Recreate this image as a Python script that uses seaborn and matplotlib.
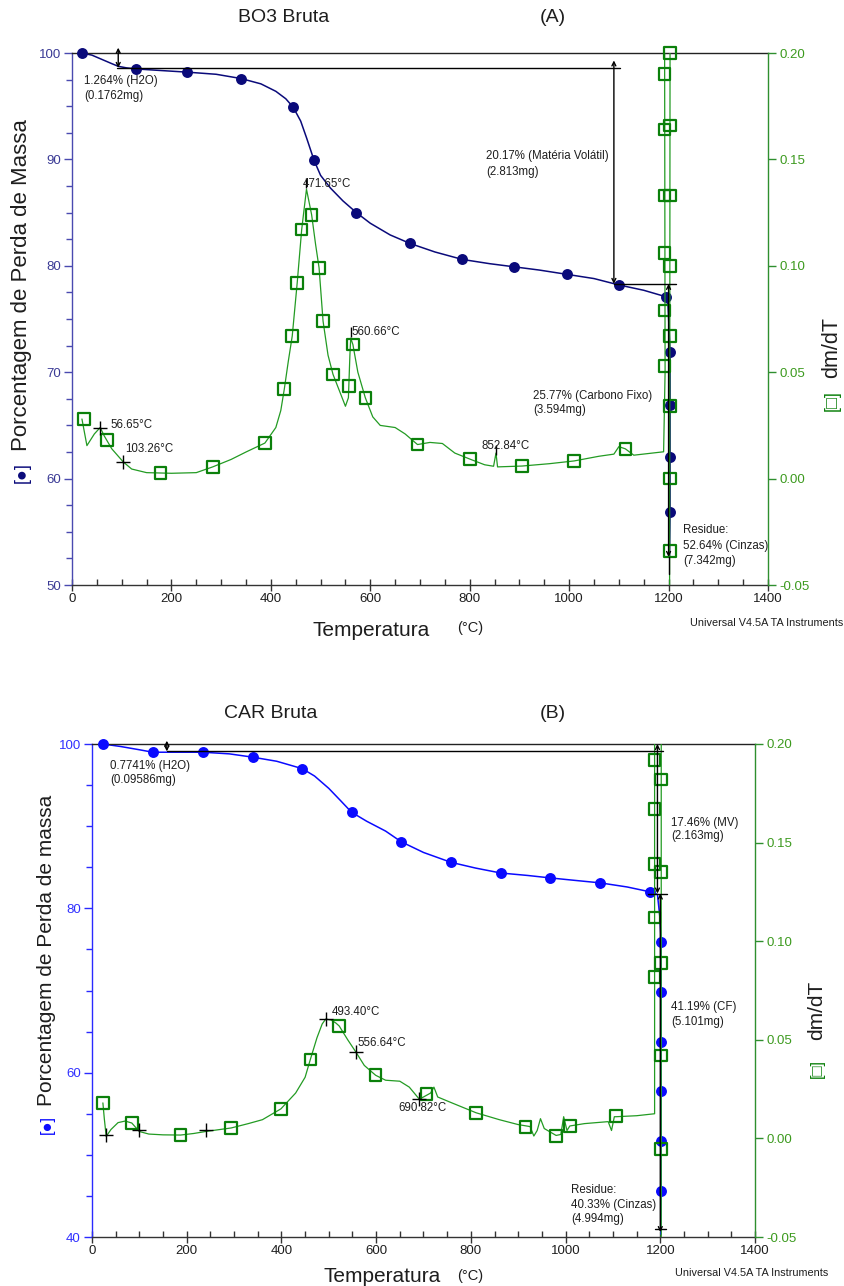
import matplotlib
matplotlib.use("Agg")
import matplotlib.pyplot as plt
from matplotlib.ticker import MultipleLocator, FormatStrFormatter
import seaborn as sns

# ---------------- data: panel A (BO3 Bruta) ----------------
A_mass_T = [20, 40, 60, 80, 93, 110, 130, 180, 232, 290, 340, 380, 410, 430, 445, 460, 472,
            487, 500, 520, 545, 572, 600, 640, 680, 730, 785, 840, 890, 940, 995, 1050, 1100,
            1150, 1194, 1199, 1203, 1203, 1203, 1203, 1202]
A_mass_pct = [100.0, 99.8, 99.4, 99.0, 98.75, 98.6, 98.5, 98.35, 98.2, 98.0, 97.6, 97.1, 96.4,
              95.7, 94.9, 93.6, 92.0, 89.9, 88.5, 87.3, 86.1, 85.0, 84.0, 82.9, 82.1, 81.3, 80.6,
              80.2, 79.9, 79.6, 79.2, 78.8, 78.2, 77.7, 77.1, 76.2, 71.9, 66.9, 62.0, 56.9, 52.64]
A_mass_mark_T = [20, 128, 232, 340, 445, 487, 572, 680, 785, 890, 995, 1100, 1194,
                 1203, 1203, 1203, 1203]
A_mass_mark_pct = [100.0, 98.5, 98.2, 97.6, 94.9, 89.9, 85.0, 82.1, 80.6, 79.9, 79.2, 78.2, 77.1,
                   71.9, 66.9, 62.0, 56.9]

A_der_T = [20, 30, 45, 56.65, 65, 80, 103.26, 120, 150, 200, 250, 283, 320, 350, 388, 410, 420,
           427, 435, 443, 453, 462, 471.65, 482, 490, 497, 505, 515, 525, 540, 550, 556, 559,
           560.66, 565, 575, 590, 605, 620, 650, 670, 695, 720, 745, 770, 800, 830, 848, 852.84,
           856, 905, 960, 1010, 1060, 1090, 1100, 1113, 1130, 1190,
           1193, 1192, 1203, 1202]
A_der_val = [0.028, 0.0155, 0.021, 0.024, 0.020, 0.014, 0.0078, 0.0045, 0.0028, 0.0025, 0.0028,
             0.0055, 0.0090, 0.0125, 0.0167, 0.024, 0.032, 0.042, 0.055, 0.067, 0.092, 0.117,
             0.136, 0.124, 0.110, 0.099, 0.074, 0.058, 0.049, 0.040, 0.034, 0.038, 0.058, 0.066,
             0.063, 0.050, 0.038, 0.029, 0.025, 0.024, 0.021, 0.016, 0.017, 0.0165, 0.012,
             0.0092, 0.0065, 0.0058, 0.012, 0.0055, 0.0059, 0.0070, 0.0083, 0.0105, 0.0115,
             0.015, 0.014, 0.0110, 0.0126,
             0.05, 0.21, 0.21, -0.06]
A_der_mark_T = [24, 70, 178, 283, 388, 427, 443, 453, 462, 482, 497, 505, 525, 557, 565, 590,
                695, 800, 905, 1010, 1113,
                1192, 1192, 1192, 1192, 1192, 1192,
                1203, 1203, 1203, 1203, 1203, 1203, 1203, 1203]
A_der_mark_val = [0.028, 0.018, 0.0026, 0.0055, 0.0167, 0.042, 0.067, 0.092, 0.117, 0.124,
                  0.099, 0.074, 0.049, 0.0435, 0.063, 0.038, 0.016, 0.0092, 0.0059, 0.0083, 0.014,
                  0.190, 0.164, 0.133, 0.106, 0.079, 0.053,
                  0.200, 0.166, 0.133, 0.100, 0.067, 0.034, 0.0, -0.034]
A_plus_T = [56.65, 103.26]
A_plus_val = [0.024, 0.0078]
A_peak_T = [471.65, 560.66, 852.84]
A_peak_val = [0.139, 0.069, 0.0135]

# ---------------- data: panel B (CAR Bruta) ----------------
B_mass_T = [23, 60, 100, 128, 158, 200, 234, 290, 339, 390, 444, 470, 500, 525, 548, 580, 620,
            653, 700, 758, 810, 863, 920, 968, 1020, 1073, 1130, 1179, 1194, 1199, 1202, 1202,
            1202, 1202, 1202, 1202, 1201]
B_mass_pct = [100.0, 99.7, 99.3, 99.0, 99.0, 99.0, 99.0, 98.8, 98.4, 97.9, 97.0, 96.1, 94.6,
              93.1, 91.7, 90.6, 89.4, 88.1, 86.8, 85.6, 84.9, 84.3, 84.0, 83.7, 83.4, 83.1, 82.6,
              82.0, 81.7, 79.0, 75.9, 69.8, 63.7, 57.8, 51.7, 45.6, 40.33]
B_mass_mark_T = [23, 128, 234, 339, 444, 548, 653, 758, 863, 968, 1073, 1179,
                 1202, 1202, 1202, 1202, 1202, 1202]
B_mass_mark_pct = [100.0, 99.0, 99.0, 98.4, 97.0, 91.7, 88.1, 85.6, 84.3, 83.7, 83.1, 82.0,
                   75.9, 69.8, 63.7, 57.8, 51.7, 45.6]

B_der_T = [23, 26, 30, 40, 55, 70, 84, 100, 120, 150, 187, 215, 240, 270, 294, 330, 360, 399,
           430, 450, 461, 475, 486, 493.4, 505, 515, 522, 540, 556.64, 575, 599, 620, 650, 670,
           690.82, 700, 715, 722, 730, 760, 811, 860, 900, 925, 933, 940, 947, 955, 980, 990,
           996, 1003, 1009, 1040, 1090, 1097, 1103, 1107, 1150, 1188,
           1188, 1202, 1202]
B_der_val = [0.018, 0.010, 0.0010, 0.0045, 0.0080, 0.0088, 0.0078, 0.0035, 0.0022, 0.0018,
             0.0017, 0.0025, 0.0035, 0.0045, 0.0053, 0.0075, 0.0095, 0.015, 0.023, 0.031, 0.040,
             0.051, 0.058, 0.0605, 0.060, 0.0585, 0.057, 0.050, 0.044, 0.037, 0.032, 0.0295,
             0.029, 0.026, 0.020, 0.021, 0.023, 0.026, 0.021, 0.018, 0.013, 0.0095, 0.007, 0.006,
             0.0012, 0.004, 0.010, 0.005, 0.0015, 0.002, 0.011, 0.004, 0.0063, 0.0075, 0.0085,
             0.004, 0.0110, 0.011, 0.0115, 0.0125,
             0.21, 0.21, -0.06]
B_der_mark_T = [23, 84, 187, 294, 399, 461, 522, 599, 706, 811, 915, 980, 1009, 1107,
                1188, 1188, 1188, 1188, 1188, 1202, 1202, 1202, 1202, 1202]
B_der_mark_val = [0.018, 0.0078, 0.0017, 0.0053, 0.015, 0.040, 0.057, 0.032, 0.0225, 0.013,
                  0.0058, 0.0012, 0.0063, 0.0113,
                  0.192, 0.167, 0.139, 0.112, 0.082, 0.182, 0.135, 0.089, 0.042, -0.0054]
B_plus_T = [30, 100, 240, 493.4, 556.64, 690.82]
B_plus_val = [0.0017, 0.0045, 0.0045, 0.0605, 0.044, 0.020]

# ---------------- style ----------------
sns.set_theme(style="ticks")
plt.rcParams["font.family"] = ["Liberation Sans", "DejaVu Sans"]

W, H = 845, 1286
fig = plt.figure(figsize=(W / 100, H / 100), dpi=100)

GREEN_LINE = "#239b23"
GREEN_MARK = "#0b800b"
GREEN_AX = "#2f8f2f"
GREEN_LBL = "#3c9a1e"
TXT = "#1e1e1e"


def fx(px):
    return px / W


def fy(py):
    return 1 - py / H


def ftext(px, py, s, **kw):
    kw.setdefault("color", TXT)
    kw.setdefault("ha", "left")
    kw.setdefault("va", "center")
    fig.text(fx(px), fy(py), s, **kw)


def panel(box, ylim, ymajor, yminor, mass_color, lax_color, llbl_color):
    l, t, r, b = box
    ax = fig.add_axes([fx(l), fy(b), (r - l) / W, (b - t) / H])
    ax2 = ax.twinx()
    ax.set_xlim(0, 1400)
    ax.set_ylim(*ylim)
    ax2.set_ylim(-0.05, 0.20)
    ax.xaxis.set_major_locator(MultipleLocator(200))
    ax.xaxis.set_minor_locator(MultipleLocator(50))
    ax.yaxis.set_major_locator(MultipleLocator(ymajor))
    ax.yaxis.set_minor_locator(MultipleLocator(yminor))
    ax2.yaxis.set_major_locator(MultipleLocator(0.05))
    ax2.yaxis.set_major_formatter(FormatStrFormatter("%.2f"))
    ax.tick_params(axis="x", which="major", direction="inout", length=8, width=1,
                   color="#333333", labelcolor=TXT, labelsize=9.5, pad=2)
    ax.tick_params(axis="x", which="minor", direction="in", length=4, width=1, color="#333333")
    ax.tick_params(axis="y", which="major", direction="out", length=6, width=1,
                   color=lax_color, labelcolor=llbl_color, labelsize=9.5, pad=2, left=True)
    ax.tick_params(axis="y", which="minor", direction="out", length=4, width=1,
                   color=lax_color, left=True)
    ax2.tick_params(axis="y", which="major", direction="out", length=6, width=1,
                    color=GREEN_AX, labelcolor=GREEN_LBL, labelsize=9.5, pad=2)
    ax.spines["right"].set_visible(False)
    ax.spines["left"].set_color(lax_color)
    ax.spines["bottom"].set_color("#333333")
    ax.spines["top"].set_color("#222222")
    for sp in ["left", "top", "bottom"]:
        ax2.spines[sp].set_visible(False)
    ax2.spines["right"].set_color(GREEN_AX)
    for a in (ax, ax2):
        for sp in a.spines.values():
            sp.set_linewidth(1.0)
    return ax, ax2


def draw_series(ax, ax2, mT, mP, mmT, mmP, dT, dV, dmT, dmV, mass_color):
    sns.lineplot(x=dT, y=dV, ax=ax2, sort=False, estimator=None, color=GREEN_LINE,
                 linewidth=0.9, zorder=2)
    sns.scatterplot(x=dmT, y=dmV, ax=ax2, marker="s", s=70, color=GREEN_MARK,
                    facecolor="none", edgecolor=GREEN_MARK, linewidth=1.6, zorder=3,
                    clip_on=False)
    sns.lineplot(x=mT, y=mP, ax=ax, sort=False, estimator=None, color=mass_color,
                 linewidth=1.1, zorder=2)
    sns.scatterplot(x=mmT, y=mmP, ax=ax, marker="o", s=62, color=mass_color,
                    edgecolor=mass_color, linewidth=0, zorder=3, clip_on=False)
    for a in (ax, ax2):
        a.set_xlabel("")
        a.set_ylabel("")


def seg(ax2, ax, p0, p1, arrow=None):
    if arrow:
        ax2.annotate("", xy=p1, xytext=p0, xycoords=ax.transData, textcoords=ax.transData,
                     arrowprops=dict(arrowstyle=arrow, color="black", lw=1.0,
                                     shrinkA=0, shrinkB=0,
                                     mutation_scale=7))
    else:
        ax2.plot([p0[0], p1[0]], [p0[1], p1[1]], transform=ax.transData, color="black",
                 lw=1.0, zorder=5)


# ---------------- Panel A ----------------
NAVY = "#0a0a7a"
axA, axA2 = panel((72, 53, 768, 585), (50, 100), 10, 2.5, NAVY, "#4a4ab0", "#3a3a95")
draw_series(axA, axA2, A_mass_T, A_mass_pct, A_mass_mark_T, A_mass_mark_pct,
            A_der_T, A_der_val, A_der_mark_T, A_der_mark_val, NAVY)
sns.scatterplot(x=A_plus_T, y=A_plus_val, ax=axA2, marker="+", s=90, color="black",
                linewidth=1.0, zorder=6)
sns.scatterplot(x=A_peak_T, y=A_peak_val, ax=axA2, marker="|", s=60, color="black",
                linewidth=1.0, zorder=6)
axA2.set_ylabel("")
seg(axA2, axA, (93, 100.5), (93, 98.6), "<->")
seg(axA2, axA, (90, 98.6), (1102, 98.6))
seg(axA2, axA, (1090, 99.3), (1090, 78.3), "<->")
seg(axA2, axA, (1090, 78.3), (1214, 78.3))
seg(axA2, axA, (1200, 78.3), (1200, 52.64), "<->")
seg(axA2, axA, (1200, 52.64), (1200, 51.0))

ftext(284, 18, "BO3 Bruta", fontsize=14, ha="center")
ftext(553, 18, "(A)", fontsize=14, ha="center")
ftext(371, 630, "Temperatura", fontsize=15, ha="center")
ftext(470, 628, "(°C)", fontsize=10.5, ha="center")
ftext(843, 623, "Universal V4.5A TA Instruments", fontsize=7.8, ha="right")
ftext(22, 285, "Porcentagem de Perda de Massa", fontsize=16, rotation=90, ha="center")
ftext(22, 473, "[●]", fontsize=13, rotation=90, ha="center", color=NAVY)
ftext(832, 347, "dm/dT", fontsize=15.5, rotation=90, ha="center")
ftext(832, 401, "[□]", fontsize=13, rotation=90, ha="center", color=GREEN_MARK)

fs = 8.3
ftext(84, 81, "1.264% (H2O)", fontsize=fs)
ftext(84, 96, "(0.1762mg)", fontsize=fs)
ftext(303, 184, "471.65°C", fontsize=fs)
ftext(486, 156, "20.17% (Matéria Volátil)", fontsize=fs)
ftext(486, 172, "(2.813mg)", fontsize=fs)
ftext(351, 332, "560.66°C", fontsize=fs)
ftext(110, 425, "56.65°C", fontsize=fs)
ftext(125, 449, "103.26°C", fontsize=fs)
ftext(482, 446, "852.84°C", fontsize=fs)
ftext(533, 396, "25.77% (Carbono Fixo)", fontsize=fs)
ftext(533, 410, "(3.594mg)", fontsize=fs)
ftext(683, 530, "Residue:", fontsize=fs)
ftext(683, 546, "52.64% (Cinzas)", fontsize=fs)
ftext(683, 561, "(7.342mg)", fontsize=fs)

# ---------------- Panel B ----------------
BLUE = "#0a0aff"
axB, axB2 = panel((92, 744, 755, 1237), (40, 100), 20, 5, BLUE, "#2a2aff", "#3030ff")
draw_series(axB, axB2, B_mass_T, B_mass_pct, B_mass_mark_T, B_mass_mark_pct,
            B_der_T, B_der_val, B_der_mark_T, B_der_mark_val, BLUE)
sns.scatterplot(x=B_plus_T, y=B_plus_val, ax=axB2, marker="+", s=110, color="black",
                linewidth=1.0, zorder=6)
axB2.set_ylabel("")
seg(axB2, axB, (158, 100.4), (158, 99.1), "<->")
seg(axB2, axB, (158, 99.15), (1206, 99.15))
seg(axB2, axB, (1194, 100.0), (1194, 81.8), "<->")
seg(axB2, axB, (1175, 81.8), (1215, 81.8))
seg(axB2, axB, (1200, 81.8), (1200, 40.6), "<->")
seg(axB2, axB, (1188, 41.0), (1212, 41.0))

ftext(271, 713, "CAR Bruta", fontsize=14, ha="center")
ftext(553, 713, "(B)", fontsize=14, ha="center")
ftext(382, 1277, "Temperatura", fontsize=15, ha="center")
ftext(470, 1276, "(°C)", fontsize=10.5, ha="center")
ftext(828, 1273, "Universal V4.5A TA Instruments", fontsize=7.8, ha="right")
ftext(47, 950, "Porcentagem de Perda de massa", fontsize=15, rotation=90, ha="center")
ftext(47, 1125, "[●]", fontsize=12, rotation=90, ha="center", color=BLUE)
ftext(817, 1010, "dm/dT", fontsize=15, rotation=90, ha="center")
ftext(817, 1068, "[□]", fontsize=12, rotation=90, ha="center", color=GREEN_MARK)

ftext(110, 766, "0.7741% (H2O)", fontsize=fs)
ftext(110, 780, "(0.09586mg)", fontsize=fs)
ftext(671, 823, "17.46% (MV)", fontsize=fs)
ftext(671, 836, "(2.163mg)", fontsize=fs)
ftext(671, 1007, "41.19% (CF)", fontsize=fs)
ftext(671, 1022, "(5.101mg)", fontsize=fs)
ftext(571, 1190, "Residue:", fontsize=fs)
ftext(571, 1205, "40.33% (Cinzas)", fontsize=fs)
ftext(571, 1219, "(4.994mg)", fontsize=fs)
ftext(332, 1012, "493.40°C", fontsize=fs)
ftext(357, 1043, "556.64°C", fontsize=fs)
ftext(398, 1108, "690.82°C", fontsize=fs)

fig.savefig("out.png", dpi=100)
